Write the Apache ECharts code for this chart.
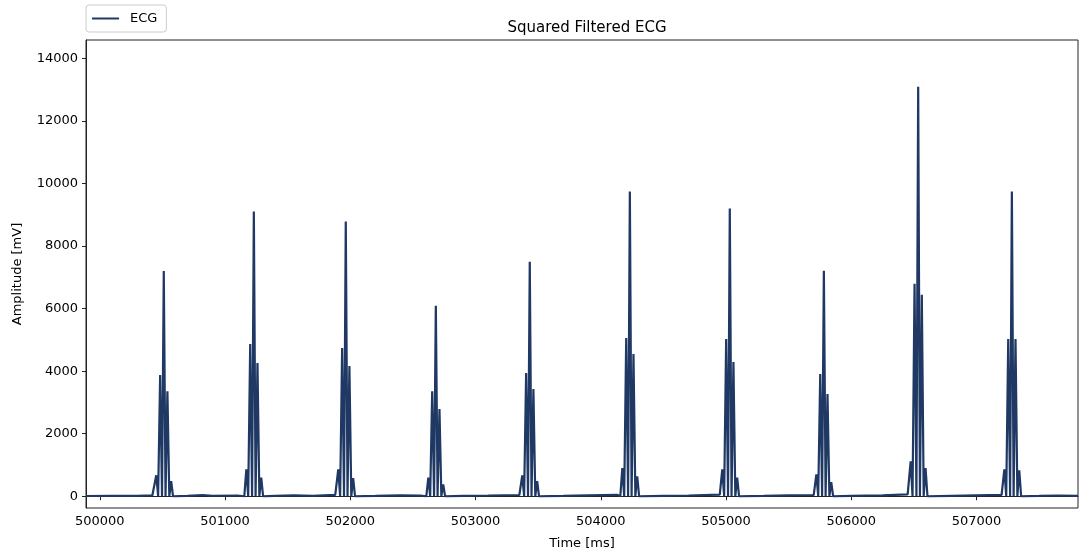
<!DOCTYPE html>
<html>
<head>
<meta charset="utf-8">
<script src="https://cdn.jsdelivr.net/npm/echarts@6/dist/echarts.min.js"></script>
<style>html,body{margin:0;padding:0;background:#fff}#c{width:1079px;height:554px}</style>
</head>
<body>
<div id="c"></div>
<script>
// Time (ms) of the tallest spike of each QRS cluster
const beatTimes = [500511, 501230, 501964, 502683, 503433, 504232, 505030, 505781, 506534, 507282];
// Offsets (ms) of the five spikes of each cluster relative to the tall spike, and of the troughs between them
const spikeOffsets = [-60, -29, 0, 29, 59];
const troughOffsets = [-76, -45, -14, 14, 44, 74];
// Spike amplitudes (mV^2)
const smallLeft  = [670, 860, 860, 600, 670, 900, 860, 700, 1120, 860];
const midLeft    = [3880, 4870, 4740, 3360, 3940, 5060, 5030, 3910, 6790, 5030];
const peakVals   = [7200, 9100, 8780, 6090, 7500, 9740, 9200, 7210, 13090, 9740];
const midRight   = [3360, 4260, 4165, 2790, 3430, 4550, 4290, 3270, 6440, 5030];
const smallRight = [480, 600, 580, 380, 480, 640, 600, 450, 900, 830];
// Low-level baseline between clusters [time, value]
const baseline = [
  [499890, 8], [500100, 12], [500300, 10], [500420, 30],
  [500700, 15], [500820, 40], [500900, 12], [501100, 25],
  [501400, 12], [501550, 30], [501700, 10], [501880, 45],
  [502200, 12], [502400, 30], [502560, 20], [502620, 40],
  [502900, 15], [503100, 25], [503350, 40], [503700, 12],
  [503900, 30], [504130, 45], [504500, 12], [504700, 25],
  [504950, 50], [505300, 12], [505500, 30], [505700, 40],
  [506000, 15], [506250, 30], [506450, 60], [506800, 15],
  [507000, 30], [507200, 45], [507500, 12], [507650, 25], [507810, 10]
];
const xTicks = [500000, 501000, 502000, 503000, 504000, 505000, 506000, 507000];
const yTicks = [0, 2000, 4000, 6000, 8000, 10000, 12000, 14000];

const pts = baseline.slice();
beatTimes.forEach((t, i) => {
  const amps = [smallLeft[i], midLeft[i], peakVals[i], midRight[i], smallRight[i]];
  troughOffsets.forEach(o => pts.push([t + o, 0]));
  spikeOffsets.forEach((o, k) => pts.push([t + o, amps[k]]));
});
// drop baseline points that fall inside a cluster
const data = pts.filter(p => {
  if (p[1] === 0) return true;
  const inBeat = beatTimes.some(t => Math.abs(p[0] - t) <= 76);
  const isSpike = beatTimes.some(t => spikeOffsets.some(o => t + o === p[0]));
  return !inBeat || isSpike;
}).sort((a, b) => a[0] - b[0]);

const chart = echarts.init(document.getElementById('c'), null, {renderer: 'canvas'});
const font = 'DejaVu Sans';
chart.setOption({
  animation: false,
  backgroundColor: '#fff',
  textStyle: {fontFamily: font},
  title: {
    text: 'Squared Filtered ECG', left: 582, top: 16, textAlign: 'center',
    textStyle: {fontFamily: font, fontSize: 15, fontWeight: 'normal', color: '#000'}
  },
  legend: {
    left: 86, top: 5, padding: [7, 9, 7, 6],
    borderColor: '#ccc', borderWidth: 1, borderRadius: 3,
    itemWidth: 27, itemHeight: 2, itemGap: 10,
    icon: 'rect',
    textStyle: {fontFamily: font, fontSize: 13, color: '#000', padding: [0, 0, 0, 6]},
    data: ['ECG']
  },
  grid: {left: 86, right: 1, top: 40, bottom: 46, show: true, borderColor: '#222', borderWidth: 1,
         containLabel: false, outerBoundsMode: 'none'},
  xAxis: {
    type: 'value', min: 499890, max: 507810,
    name: 'Time [ms]', nameLocation: 'middle', nameGap: 29,
    nameTextStyle: {fontFamily: font, fontSize: 13, color: '#000'},
    axisLine: {lineStyle: {color: '#222'}},
    axisTick: {length: 4, lineStyle: {color: '#222'}, customValues: xTicks},
    axisLabel: {fontFamily: font, fontSize: 13, color: '#000', margin: 7, customValues: xTicks,
                formatter: v => String(v)},
    splitLine: {show: false}
  },
  yAxis: {
    type: 'value', min: -375, max: 14586,
    name: 'Amplitude [mV]', nameLocation: 'middle', nameGap: 62, nameRotate: 90,
    nameTextStyle: {fontFamily: font, fontSize: 13, color: '#000'},
    axisLine: {show: true, lineStyle: {color: '#222'}},
    axisTick: {show: true, length: 4, lineStyle: {color: '#222'}, customValues: yTicks},
    axisLabel: {fontFamily: font, fontSize: 13, color: '#000', margin: 8, customValues: yTicks,
                formatter: v => String(v)},
    splitLine: {show: false}
  },
  series: [{
    name: 'ECG', type: 'line', data: data, showSymbol: false, symbol: 'none',
    lineStyle: {color: '#1f3864', width: 2.2},
    itemStyle: {color: '#1f3864'}
  }]
});
</script>
</body>
</html>
